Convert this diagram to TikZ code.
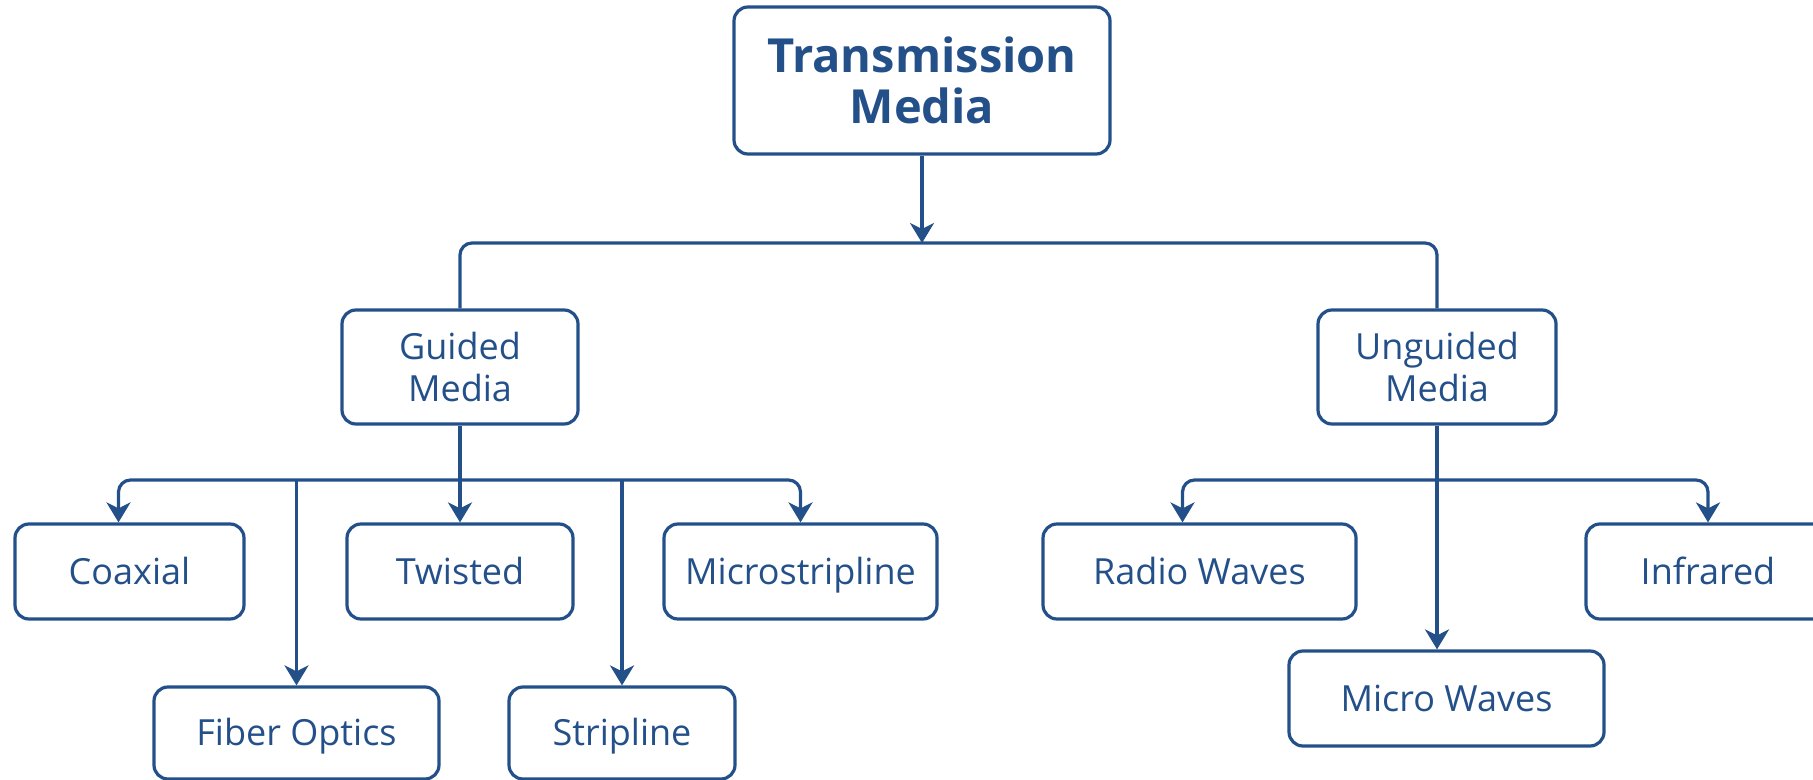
\documentclass[tikz,border=0pt]{standalone}
\usepackage{fontspec}
\setmainfont{Open Sans}
\usetikzlibrary{arrows.meta}
\definecolor{navy}{RGB}{36,80,138}
\tikzset{
  x=0.5pt, y=-0.5pt,
  box/.style={draw=navy, line width=1.6pt, rounded corners=7pt, text=navy,
    align=center, inner sep=0pt, font=\fontsize{18}{21}\selectfont},
  one/.style={text height=13.4pt, text depth=0.5pt},
  sz/.style 2 args={minimum width=#1*0.5pt, minimum height=#2*0.5pt},
  title/.style={font=\fontsize{23.5}{25.5}\selectfont\bfseries},
  link/.style={draw=navy, line width=1.6pt, rounded corners=6pt},
  arr/.style={link, -{Stealth[length=10pt, width=12pt, inset=3pt]}}
}
\begin{document}
\begin{tikzpicture}
\useasboundingbox (0,0) rectangle (1813,780);

% nodes
\node[box, title, sz={376}{147}] (top) at (922,80.5) {Transmission\\Media};
\node[box, sz={236}{114}] (guided) at (460,367) {Guided\\Media};
\node[box, sz={238}{114}] (unguided) at (1437,367) {Unguided\\Media};

\node[box, one, sz={229}{95}] (coax) at (129.5,571.5) {Coaxial};
\node[box, one, sz={226}{95}] (twisted) at (460,571.5) {Twisted};
\node[box, one, sz={273}{95}] (micro) at (800.5,571.5) {Microstripline};
\node[box, one, sz={285}{92}] (fiber) at (296.5,733) {Fiber Optics};
\node[box, one, sz={226}{92}] (strip) at (622,733) {Stripline};

\node[box, one, sz={313}{95}] (radio) at (1199.5,571.5) {Radio Waves};
\node[box, one, sz={244}{95}] (infra) at (1708,571.5) {Infrared};
\node[box, one, sz={315}{95}] (mw) at (1446.5,698.5) {Micro Waves};

% junction points on the horizontal bars
\coordinate (b1) at (922,243);
\coordinate (g) at (460,480);
\coordinate (u) at (1437,480);

% top level
\draw[arr] (top.south) -- (b1);
\draw[link] (guided.north) |- (b1) -| (unguided.north);

% guided media
\draw[arr] (guided.south) -- (twisted.north);
\draw[arr] (g) -| ([xshift=-5.5pt]coax.north);
\draw[arr] (g) -| (micro.north);
\draw[arr] (fiber.north |- g) -- (fiber.north);
\draw[arr] (strip.north |- g) -- (strip.north);

% unguided media
\draw[arr] (unguided.south) -- (unguided.south |- mw.north);
\draw[arr] (u) -| ([xshift=-8.5pt]radio.north);
\draw[arr] (u) -| (infra.north);
\end{tikzpicture}
\end{document}
